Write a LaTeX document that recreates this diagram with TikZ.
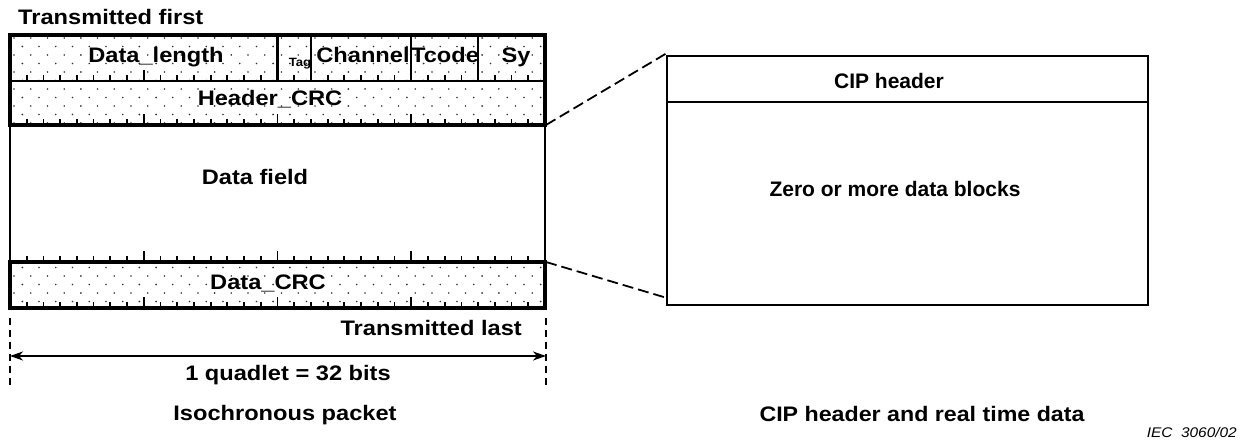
\documentclass[tikz,border=0pt]{standalone}
\usepackage{fontspec}
\setmainfont{Liberation Sans}
\usetikzlibrary{arrows.meta}
\begin{document}
\begin{tikzpicture}[x=1pt,y=-1pt,
  lbl/.style={font=\fontsize{21}{24}\selectfont\bfseries, inner sep=0pt, anchor=base},
  wide/.style={lbl, xscale=1.125},
  small/.style={font=\fontsize{12}{14}\selectfont\bfseries, inner sep=0pt, anchor=base, xscale=1.1},
  thickline/.style={line width=3.8pt},
  thinline/.style={line width=1.8pt},
  tick/.style={line width=1.8pt},
  conn/.style={line width=1.8pt, dash pattern=on 11pt off 5pt},
  dimline/.style={line width=1.6pt, dash pattern=on 7pt off 5pt}]
\useasboundingbox (0,0) rectangle (1244,443);
\def\bw{16.71875}
% dotted fill
\begin{scope}
  \clip (10,35) rectangle (545,125) (10,262) rectangle (545,308);
  \foreach \r in {0,...,34} {
    \pgfmathsetmacro{\yy}{38+8.5*\r}
    \pgfmathsetmacro{\off}{mod(\r,2)*8.36}
    \foreach \c in {0,...,33} {
      \fill[black!80] ({14+\off+\c*\bw},\yy) circle (0.9pt);
    }
  }
\end{scope}
% ticks
\foreach \ye in {81,125,262,308} {
  \foreach \i in {1,...,31} {
    \pgfmathsetmacro{\len}{ifthenelse(mod(\i,8)==0,11,6)}
    \draw[tick] ({10+\i*\bw},\ye) -- ++(0,-\len);
  }
}
% packet frame
\draw[thickline] (10,35) rectangle (545,125);
\draw[thickline] (10,262) rectangle (545,308);
\draw[thinline] (10,125) -- (10,262) (545,125) -- (545,262);
\draw[line width=2.2pt] (10,81) -- (545,81);
\foreach \b in {16,18,24,28} \draw[line width=2.2pt] ({10+\b*\bw},35) -- ({10+\b*\bw},81);
% packet labels
\node[wide, anchor=base west] (tf) at (18,25) {Transmitted first};
\node[wide] (dl) at (156,63) {Data\_length};
\node[small] (tag) at (300,67) {Tag};
\node[wide] (ch) at (363,63) {Channel};
\node[wide] (tc) at (445,63) {Tcode};
\node[wide] (sy) at (516,63) {Sy};
\node[wide] (hc) at (270,106) {Header\_CRC};
\node[wide] (df) at (255,185) {Data field};
\node[wide] (dc) at (268,290) {Data\_CRC};
\node[wide, anchor=base east] (tl) at (522,335) {Transmitted last};
% dimension
\coordinate (dl1) at (10,318); \coordinate (dl2) at (10,385);
\coordinate (dr1) at (546,318); \coordinate (dr2) at (546,385);
\draw[dimline] (dl1) -- (dl2);
\draw[dimline] (dr1) -- (dr2);
\coordinate (al) at (10,356); \coordinate (ar) at (546,356);
\draw[line width=1.8pt, {Stealth[length=13pt,width=9pt,inset=4pt]}-{Stealth[length=13pt,width=9pt,inset=4pt]}] (al) -- (ar);
\node[wide] (q) at (288,380) {1 quadlet = 32 bits};
\node[wide] (ip) at (285,420) {Isochronous packet};
% CIP box
\draw[line width=2.2pt] (667,56) rectangle (1148,305);
\draw[line width=2.2pt] (667,102) -- (1148,102);
\node[lbl] (cip) at (889,89) {CIP header};
\node[lbl] (zero) at (895,197) {Zero or more data blocks};
\node[lbl, xscale=1.105] (cap) at (922,421) {CIP header and real time data};
\node[font=\fontsize{14}{16}\selectfont\itshape, inner sep=0pt, anchor=base east, xscale=1.1] (iec) at (1237,437) {IEC\ \ 3060/02};
% connectors
\coordinate (p1) at (546,125); \coordinate (c1) at (667,53);
\coordinate (p2) at (546,262); \coordinate (c2) at (667,298);
\draw[conn] (p1) -- (c1);
\draw[conn] (p2) -- (c2);
\end{tikzpicture}
\end{document}
